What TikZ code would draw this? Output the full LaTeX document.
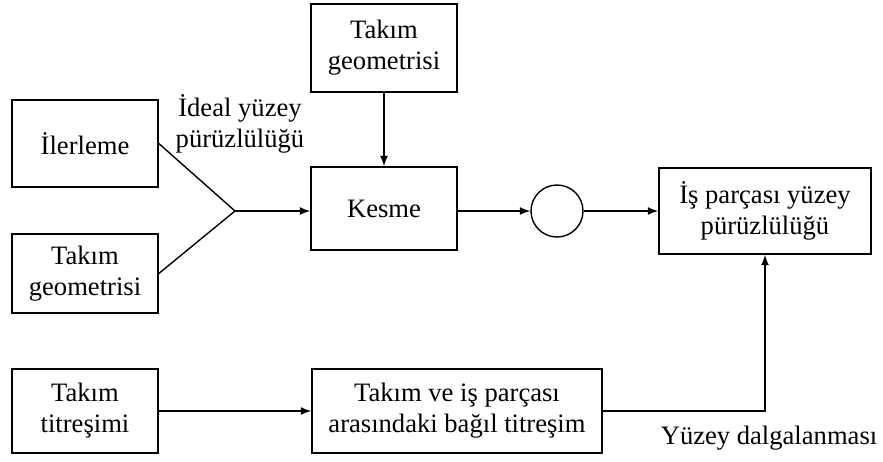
\documentclass[tikz,border=0pt]{standalone}
\usepackage{fontspec}
\setmainfont{Liberation Serif}
\usetikzlibrary{arrows}
\begin{document}
\begin{tikzpicture}[>=latex, x=0.5pt, y=-0.5pt, font=\fontsize{13.3}{15.5}\selectfont]
    % Surface roughness of the workpiece: inputs, cutting and vibration paths
    \tikzset{block/.style={draw, line width=0.8pt, align=center, minimum width=73pt, inner sep=2pt}, sumnode/.style={draw, circle, line width=0.7pt, minimum size=26pt, inner sep=0pt}, flow/.style={->, line width=0.8pt}, plainline/.style={line width=0.7pt}, note/.style={align=center, inner sep=1pt}}
    \useasboundingbox (0,0) rectangle (883,461);
    \begin{scope}
        \node[block, minimum height=43.5pt] (ilerleme) at (85,143.5) {İlerleme};
        \node[block, minimum height=39.5pt] (geoleft) at (85,273.5) {Takım\\geometrisi};
        \coordinate (join) at (235,211);
        \node[note] (ideal) at (240,124) {İdeal yüzey\\pürüzlülüğü};
    \end{scope}
    \begin{scope}
        \node[block, minimum height=44pt] (geotop) at (384,48) {Takım\\geometrisi};
        \node[block, minimum height=41.5pt] (kesme) at (384,208.5) {Kesme};
        \node[sumnode] (sum) at (557,211) {};
        \node[block, minimum width=106pt, minimum height=43pt] (surface) at (765,211) {İş parçası yüzey\\pürüzlülüğü};
    \end{scope}
    \begin{scope}
        \node[block, minimum height=42pt] (titresim) at (85,411) {Takım\\titreşimi};
        \node[block, minimum width=145pt, minimum height=42pt] (bagil) at (457,411) {Takım ve iş parçası\\arasındaki bağıl titreşim};
        \node[note] (dalga) at (769,438) {Yüzey dalgalanması};
    \end{scope}
    \draw[plainline] (ilerleme.east) -- (join); \draw[plainline] (geoleft.east) -- (join);
    \draw[flow] (join) -- (join -| kesme.west);
    \draw[flow] (geotop) -- (kesme);
    \draw[flow] (sum.west -| kesme.east) -- (sum.west); \draw[flow] (sum.east) -- (sum.east -| surface.west);
    \draw[flow] (titresim) -- (bagil);
    \draw[flow] (bagil.east) -| (surface.south);
\end{tikzpicture}
\end{document}
